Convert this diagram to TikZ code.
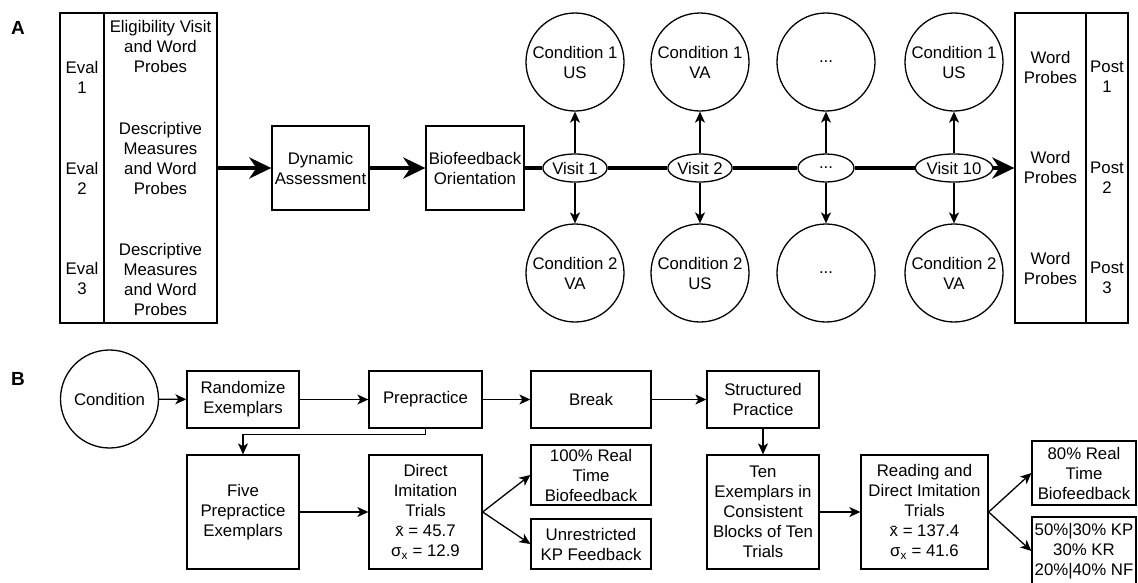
\documentclass[tikz,border=0pt]{standalone}
\usepackage{fontspec}
\setmainfont{Liberation Sans}
\usetikzlibrary{arrows.meta,shapes.geometric}

\begin{document}
\begin{tikzpicture}[x=1pt, y=-1pt,
    font=\fontsize{16.8}{20}\selectfont,
    box/.style={draw, line width=1.3pt, inner sep=0pt, align=center},
    cond/.style={draw, circle, line width=1.3pt, minimum size=98pt, inner sep=0pt, align=center},
    visit/.style={draw, ellipse, fill=white, line width=1.3pt, minimum height=28pt, inner sep=0pt},
    txt/.style={align=center, inner sep=0pt},
    panel/.style={font=\fontsize{19}{22}\selectfont\bfseries},
    mainline/.style={line width=4pt},
    bigarrow/.style={line width=4pt, -{Stealth[length=22pt, width=21pt, inset=7pt]}},
    arrow/.style={line width=1.3pt, -{Stealth[length=11pt, width=10pt, inset=3pt]}}]
    \fill[white] (0,0) rectangle (1138,582);
    \useasboundingbox (0,0) rectangle (1138,582);

    % panel A
    \node[panel] (labA) at (18,28) {A};

    \node[box, minimum width=44pt, minimum height=310pt] (evalcol) at (82,168) {};
    \node[box, minimum width=113pt, minimum height=310pt] (probecol) at (160.5,168) {};
    \node[txt] (eval1) at (82,77) {Eval\\1};
    \node[txt] (eval2) at (82,178) {Eval\\2};
    \node[txt] (eval3) at (82,278) {Eval\\3};
    \node[txt] (probe1) at (160.5,46) {Eligibility Visit\\and Word\\Probes};
    \node[txt] (probe2) at (160.5,158) {Descriptive\\Measures\\and Word\\Probes};
    \node[txt] (probe3) at (160.5,279) {Descriptive\\Measures\\and Word\\Probes};

    \node[box, minimum width=97pt, minimum height=84pt] (dyn) at (320.5,168) {Dynamic\\Assessment};
    \node[box, minimum width=98pt, minimum height=84pt] (bio) at (475,168) {Biofeedback\\Orientation};

    \node[visit, minimum width=55pt] (visit1) at (575,168) {Visit 1};
    \node[visit, minimum width=56pt] (visit2) at (700,168) {Visit 2};
    \node[visit, minimum width=56pt] (visitdots) at (826,168) {...};
    \node[visit, minimum width=70pt] (visit10) at (954,168) {Visit 10};

    \node[cond] (c1a) at (575,62) {Condition 1\\US};
    \node[cond] (c2a) at (575,273) {Condition 2\\VA};
    \node[cond] (c1b) at (700,62) {Condition 1\\VA};
    \node[cond] (c2b) at (700,273) {Condition 2\\US};
    \node[cond] (c1c) at (826,62) {...};
    \node[cond] (c2c) at (826,273) {...};
    \node[cond] (c1d) at (954,62) {Condition 1\\US};
    \node[cond] (c2d) at (954,273) {Condition 2\\VA};

    \node[box, minimum width=71pt, minimum height=310pt] (wordcol) at (1050.5,168) {};
    \node[box, minimum width=42pt, minimum height=310pt] (postcol) at (1107,168) {};
    \node[txt] (word1) at (1050.5,67) {Word\\Probes};
    \node[txt] (word2) at (1050.5,167) {Word\\Probes};
    \node[txt] (word3) at (1050.5,268) {Word\\Probes};
    \node[txt] (post1) at (1107,77) {Post\\1};
    \node[txt] (post2) at (1107,178) {Post\\2};
    \node[txt] (post3) at (1107,278) {Post\\3};

    \draw[bigarrow] (probecol) -- (dyn);
    \draw[bigarrow] (dyn) -- (bio);
    \draw[mainline] (bio) -- (visit1);
    \draw[mainline] (visit1) -- (visit2);
    \draw[mainline] (visit2) -- (visitdots);
    \draw[mainline] (visitdots) -- (visit10);
    \draw[bigarrow] (visit10) -- (wordcol);

    \foreach \v/\up/\down in {visit1/c1a/c2a, visit2/c1b/c2b, visitdots/c1c/c2c, visit10/c1d/c2d} {
        \draw[arrow] (\v) -- (\up);
        \draw[arrow] (\v) -- (\down);
    }

    % panel B
    \node[panel] (labB) at (18,379) {B};

    \node[cond] (cond) at (109.5,399) {Condition};
    \node[box, minimum width=112pt, minimum height=57pt] (random) at (243,399.5) {Randomize\\Exemplars};
    \node[box, minimum width=113pt, minimum height=57pt] (prepractice) at (425.5,399.5) {Prepractice};
    \node[box, minimum width=120pt, minimum height=57pt] (breaktime) at (591,399.5) {Break};
    \node[box, minimum width=112pt, minimum height=57pt] (structured) at (763,399.5) {Structured\\Practice};

    \node[box, minimum width=112pt, minimum height=114pt] (five) at (243,512) {Five\\Prepractice\\Exemplars};
    \node[box, minimum width=113pt, minimum height=114pt] (direct) at (425.5,512)
        {Direct\\Imitation\\Trials\\\={x} = 45.7\\σ\textsubscript{x} = 12.9};
    \node[box, minimum width=120pt, minimum height=60pt] (real100) at (591,475) {100\% Real\\Time\\Biofeedback};
    \node[box, minimum width=120pt, minimum height=50pt] (kpfb) at (591,544) {Unrestricted\\KP Feedback};

    \node[box, minimum width=112pt, minimum height=114pt] (ten) at (763,512)
        {Ten\\Exemplars in\\Consistent\\Blocks of Ten\\Trials};
    \node[box, minimum width=127pt, minimum height=114pt] (reading) at (924.5,512)
        {Reading and\\Direct Imitation\\Trials\\\={x} = 137.4\\σ\textsubscript{x} = 41.6};
    \node[box, minimum width=104pt, minimum height=64pt] (real80) at (1084,473) {80\% Real\\Time\\Biofeedback};
    \node[box, minimum width=104pt, minimum height=68pt] (mixed) at (1084,551) {50\%|30\% KP\\30\% KR\\20\%|40\% NF};

    \draw[arrow] (cond) -- (random);
    \draw[arrow] (random) -- (prepractice);
    \draw[arrow] (prepractice) -- (breaktime);
    \draw[arrow] (breaktime) -- (structured);
    \draw[arrow] (prepractice.south) -- ++(0,6) -| (five.north);
    \draw[arrow] (five) -- (direct);
    \draw[arrow] (direct.east) -- (real100.west);
    \draw[arrow] (direct.east) -- (kpfb.west);
    \draw[arrow] (structured) -- (ten);
    \draw[arrow] (ten) -- (reading);
    \draw[arrow] (reading.east) -- (real80.west);
    \draw[arrow] (reading.east) -- (mixed.west);
\end{tikzpicture}
\end{document}
